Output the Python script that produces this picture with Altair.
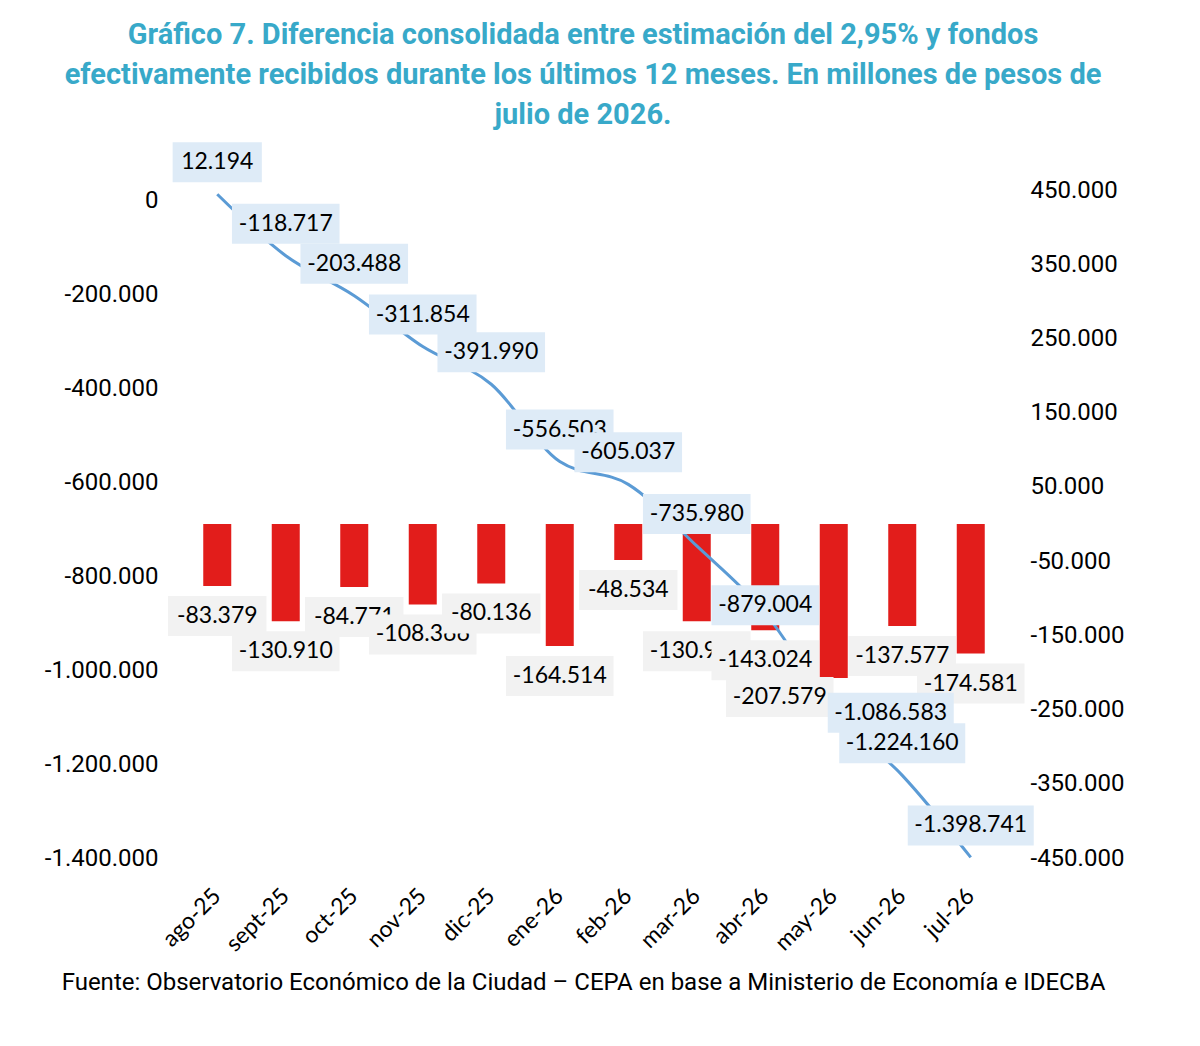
import altair as alt
import pandas as pd

months = ["ago-25", "sept-25", "oct-25", "nov-25", "dic-25", "ene-26",
          "feb-26", "mar-26", "abr-26", "may-26", "jun-26", "jul-26"]
monthly_diff = [-83379, -130910, -84771, -108366, -80136, -164514,
                -48534, -130943, -143024, -207579, -137577, -174581]
cumulative = [12194, -118717, -203488, -311854, -391990, -556503,
              -605037, -735980, -879004, -1086583, -1224160, -1398741]
left_ticks = [0, -200000, -400000, -600000, -800000, -1000000, -1200000, -1400000]
right_ticks = [450000, 350000, 250000, 150000, 50000, -50000, -150000,
               -250000, -350000, -450000]

title_lines = [
    "Gráfico 7. Diferencia consolidada entre estimación del 2,95% y fondos",
    "efectivamente recibidos durante los últimos 12 meses. En millones de pesos de",
    "julio de 2026.",
]
source = "Fuente: Observatorio Económico de la Ciudad – CEPA en base a Ministerio de Economía e IDECBA"

# label placement (pixel offsets of label centre from its bar end / line point)
BAR_LABEL_OFFSET = (0, 30)
LINE_LABEL_OFFSET = (0, -32)
bar_label_nudge = {"may-26": (-54, 19)}
line_label_nudge = {"abr-26": (0, -8), "may-26": (57, 2)}


def fmt(v):
    return f"{v:,}".replace(",", ".")


df = pd.DataFrame({"mes": months, "mensual": monthly_diff, "acumulado": cumulative})
df["lab_m"] = [fmt(v) for v in monthly_diff]
df["lab_a"] = [fmt(v) for v in cumulative]

LEFT_DOMAIN = [-1400000, 21300]
RIGHT_DOMAIN = [-450000, 450000]

x_enc = alt.X(
    "mes:N", sort=months,
    scale=alt.Scale(paddingInner=0, paddingOuter=0),
    axis=alt.Axis(labelAngle=-45, labelAlign="right", labelBaseline="middle",
                  labelPadding=34, labelFont="Lato", labelFontSize=23, title=source,
                  titleFont="Roboto", titleFontSize=24, titleFontWeight="normal",
                  titleColor="#000000", titlePadding=15, titleX=400),
)

y_right = alt.Y("mensual:Q", scale=alt.Scale(domain=RIGHT_DOMAIN, nice=False, zero=False),
                axis=alt.Axis(orient="right", values=right_ticks, format=",d",
                              labelPadding=25, title=None))
y_right_hidden = alt.Y("mensual:Q", scale=alt.Scale(domain=RIGHT_DOMAIN, nice=False, zero=False),
                       axis=None)
y_left = alt.Y("acumulado:Q", scale=alt.Scale(domain=LEFT_DOMAIN, nice=False, zero=False),
               axis=alt.Axis(orient="left", values=left_ticks, format=",d",
                             labelPadding=25, title=None))
y_left_hidden = alt.Y("acumulado:Q", scale=alt.Scale(domain=LEFT_DOMAIN, nice=False, zero=False),
                      axis=None)

base = alt.Chart(df)

bars = base.mark_bar(size=28, color="#e21d1b").encode(x=x_enc, y=y_right, y2=alt.datum(0))

line = base.mark_line(interpolate="monotone", color="#5b9bd5", strokeWidth=3).encode(
    x=x_enc, y=y_left)


def label_layers(month, label_field, y_hidden, offset, box_color):
    ox, oy = offset
    top, bottom = oy - 20, oy + 20
    src = base.transform_filter(alt.datum.mes == month).transform_calculate(
        hw=f"4.6*length(datum.{label_field})+17"
    ).transform_calculate(
        box=(f"'M'+({ox}-datum.hw)+',{top}L'+({ox}+datum.hw)+',{top}L'"
             f"+({ox}+datum.hw)+',{bottom}L'+({ox}-datum.hw)+',{bottom}Z'")
    )
    box = src.mark_point(filled=True, opacity=1, size=4, strokeWidth=0,
                         color=box_color).encode(
        x=x_enc, y=y_hidden, shape=alt.Shape("box:N", scale=None))
    txt = src.mark_text(font="Lato", fontSize=23, dx=ox, dy=oy, color="#000000").encode(
        x=x_enc, y=y_hidden, text=f"{label_field}:N")
    return [box, txt]


bar_label_layers = []
line_label_layers = []
for m in months:
    bx = bar_label_nudge.get(m, BAR_LABEL_OFFSET)
    lx = line_label_nudge.get(m, LINE_LABEL_OFFSET)
    bar_label_layers += label_layers(m, "lab_m", y_right_hidden, bx, "#f2f2f2")
    line_label_layers += label_layers(m, "lab_a", y_left_hidden, lx, "#deebf7")

chart = alt.layer(
    bars, line, alt.layer(*bar_label_layers), alt.layer(*line_label_layers)
).resolve_scale(y="independent").properties(
    width=822, height=668,
    padding={"left": 36, "top": 13, "right": 10, "bottom": 10},
    title=alt.TitleParams(title_lines, font="Roboto", fontSize=29, fontWeight="bold",
                          color="#38a9c9", lineHeight=40, anchor="middle", offset=12,
                          dx=-11),
).configure(
    locale={"number": {"decimal": ",", "thousands": ".", "grouping": [3],
                       "currency": ["$", ""], "minus": "-"}}
).configure_view(stroke=None).configure_axis(
    grid=False, domain=False, ticks=False, labelFont="Roboto", labelFontSize=24,
    labelColor="#000000",
)

chart.save("out.html", embed_options={"renderer": "svg", "actions": False})
